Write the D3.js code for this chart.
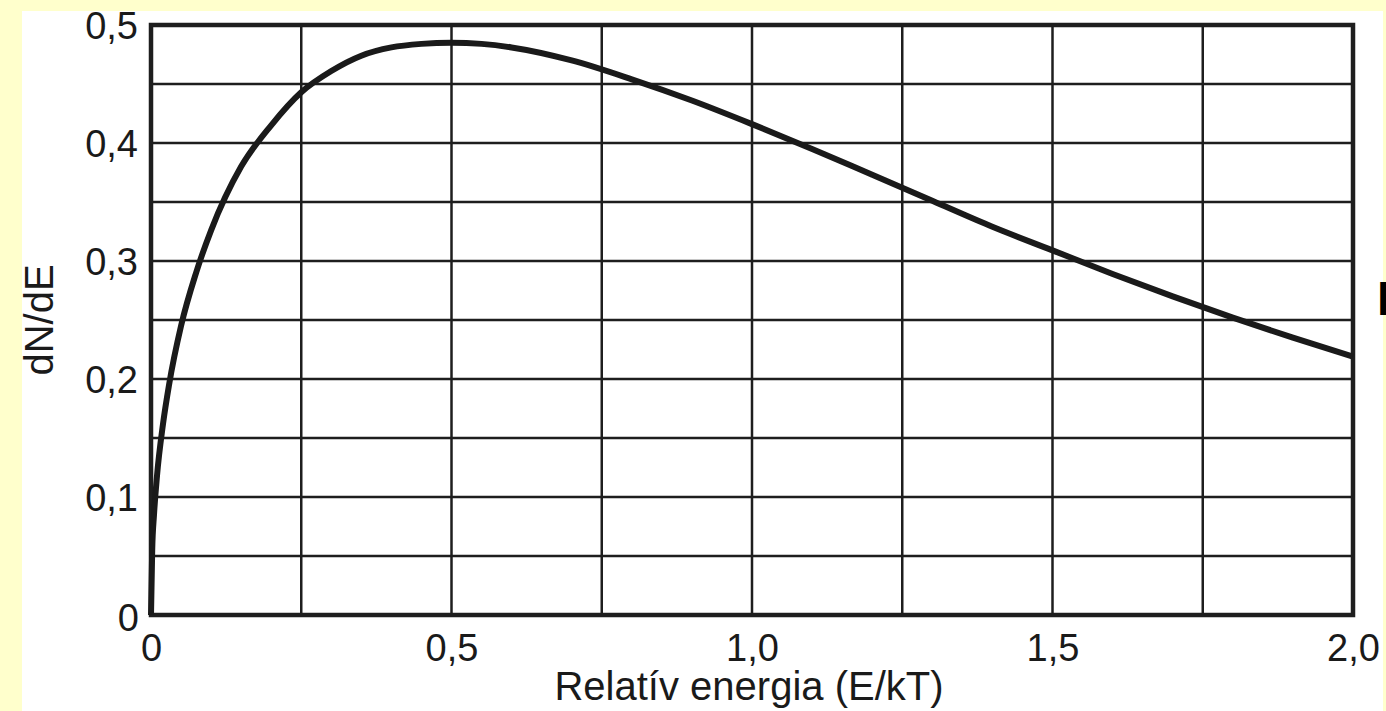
<!DOCTYPE html>
<html>
<head>
<meta charset="utf-8">
<script src="https://cdn.jsdelivr.net/npm/d3@7"></script>
<style>
  html, body { margin: 0; padding: 0; background: #FFFFCC; overflow: hidden; }
  svg { display: block; }
  text { font-family: "Liberation Sans", Arial, sans-serif; fill: #1a1a1a; }
</style>
</head>
<body>
<svg id="chart" width="1386" height="711"></svg>
<script>
// Data
const energy = [0, 0.002, 0.005, 0.01, 0.02, 0.03, 0.05, 0.075, 0.1, 0.15, 0.2, 0.25, 0.3, 0.35, 0.4, 0.45, 0.5, 0.55, 0.6, 0.7, 0.8, 0.9, 1.0, 1.1, 1.2, 1.3, 1.4, 1.5, 1.6, 1.7, 1.8, 1.9, 2.0];
const dNdE   = [0, 0.055, 0.085, 0.118, 0.162, 0.195, 0.245, 0.29, 0.326, 0.38, 0.415, 0.443, 0.461, 0.474, 0.481, 0.484, 0.485, 0.484, 0.481, 0.47, 0.454, 0.436, 0.416, 0.395, 0.373, 0.351, 0.329, 0.309, 0.289, 0.27, 0.252, 0.235, 0.219];
const xTickValues = [0, 0.5, 1.0, 1.5, 2.0];
const xTickLabels = ["0", "0,5", "1,0", "1,5", "2,0"];
const yTickValues = [0, 0.1, 0.2, 0.3, 0.4, 0.5];
const yTickLabels = ["0", "0,1", "0,2", "0,3", "0,4", "0,5"];
const xGridValues = [0, 0.25, 0.5, 0.75, 1.0, 1.25, 1.5, 1.75, 2.0];
const yGridValues = [0, 0.05, 0.1, 0.15, 0.2, 0.25, 0.3, 0.35, 0.4, 0.45, 0.5];
const xTitle = "Relatív energia (E/kT)";
const yTitle = "dN/dE";
const sideText = "E";

(function () {
const svg = d3.select("#chart");
const W = 1386, H = 711;

// white panel
svg.append("rect").attr("x", 22).attr("y", 11).attr("width", 1361).attr("height", 700).attr("fill", "#ffffff");

const pLeft = 151, pRight = 1353, pTop = 25, pBottom = 615;
const x = d3.scaleLinear().domain([0, 2]).range([pLeft, pRight]);
const y = d3.scaleLinear().domain([0, 0.5]).range([pBottom, pTop]);

const ink = "#1e1e1e";
const fs = 38;

// grid
const grid = svg.append("g");
grid.selectAll("line.v").data(xGridValues).join("line").attr("class", "v")
  .attr("x1", d => x(d)).attr("x2", d => x(d))
  .attr("y1", pTop).attr("y2", pBottom)
  .attr("stroke", ink).attr("stroke-width", 2.5);
grid.selectAll("line.h").data(yGridValues).join("line").attr("class", "h")
  .attr("x1", pLeft).attr("x2", pRight)
  .attr("y1", d => y(d)).attr("y2", d => y(d))
  .attr("stroke", ink).attr("stroke-width", 2.5);

// frame
svg.append("rect").attr("x", pLeft).attr("y", pTop)
  .attr("width", pRight - pLeft).attr("height", pBottom - pTop)
  .attr("fill", "none").attr("stroke", ink).attr("stroke-width", 4.5);

// tick labels via d3 axes (no domain/tick lines)
const xAxis = d3.axisBottom(x).tickValues(xTickValues)
  .tickFormat((d, i) => xTickLabels[i]).tickSize(0).tickPadding(0);
const gx = svg.append("g").attr("transform", `translate(0,${pBottom})`).call(xAxis);
gx.select(".domain").remove();
gx.selectAll("text").attr("font-size", fs).attr("dy", null).attr("y", 46)
  .style("font-family", '"Liberation Sans", Arial, sans-serif').attr("fill", ink);

const yAxis = d3.axisLeft(y).tickValues(yTickValues)
  .tickFormat((d, i) => yTickLabels[i]).tickSize(0).tickPadding(0);
const gy = svg.append("g").attr("transform", `translate(${pLeft},0)`).call(yAxis);
gy.select(".domain").remove();
gy.selectAll("text").attr("font-size", fs).attr("x", -13).attr("dy", "0.36em")
  .style("font-family", '"Liberation Sans", Arial, sans-serif').attr("fill", ink);
gy.selectAll(".tick").filter(d => d === 0).select("text").attr("x", -12).attr("dy", "0.42em");

// curve
const pts = energy.map((e, i) => [e, dNdE[i]]);
const line = d3.line().x(d => x(d[0])).y(d => y(d[1])).curve(d3.curveMonotoneX);
svg.append("path").datum(pts).attr("d", line)
  .attr("fill", "none").attr("stroke", "#1a1a1a").attr("stroke-width", 6)
  .attr("stroke-linejoin", "round");

// titles
svg.append("text").attr("x", (pLeft + pRight) / 2 - 3).attr("y", 700)
  .attr("text-anchor", "middle").attr("font-size", 40).text(xTitle);
svg.append("text").attr("transform", `translate(53,${(pTop + pBottom) / 2}) rotate(-90)`)
  .attr("text-anchor", "middle").attr("font-size", 40).text(yTitle);

// yellow strips framing the white panel
svg.append("rect").attr("x", 1383).attr("y", 0).attr("width", 3).attr("height", H).attr("fill", "#FFFFCC");
svg.append("rect").attr("x", 0).attr("y", 0).attr("width", W).attr("height", 11).attr("fill", "#FFFFCC");
svg.append("rect").attr("x", 0).attr("y", 0).attr("width", 22).attr("height", H).attr("fill", "#FFFFCC");

// partially visible text at right edge (cut off in the reference too)
svg.append("text").attr("x", 1377).attr("y", 315).attr("font-size", 48)
  .attr("font-weight", "bold").style("fill", "#000").text(sideText);
})();
</script>
</body>
</html>
